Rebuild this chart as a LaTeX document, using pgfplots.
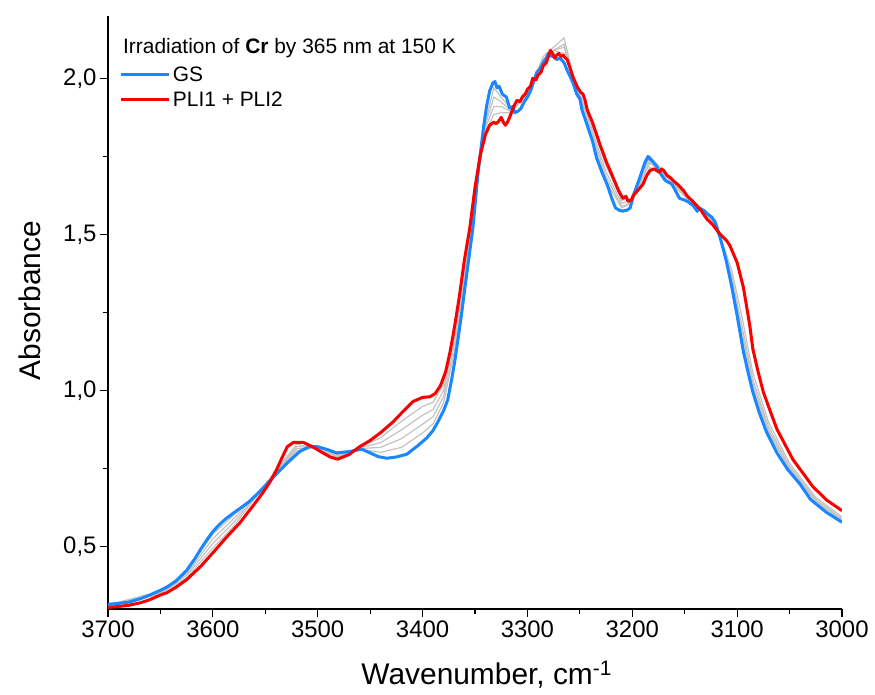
\documentclass[border=0pt]{standalone}
\usepackage{fontspec}
\setmainfont{Liberation Sans}
\usepackage{pgfplots}
\pgfplotsset{compat=1.18}
\definecolor{gsblue}{RGB}{25,135,255}
\definecolor{plired}{RGB}{250,0,0}
\definecolor{lgray}{RGB}{195,195,195}
\begin{document}
\begin{tikzpicture}
\useasboundingbox (-108bp,-86bp) rectangle (767bp,609bp);
\begin{axis}[
  scale only axis,
  width=734bp, height=593bp,
  x dir=reverse,
  xmin=3000, xmax=3700,
  ymin=0.3, ymax=2.2,
  axis x line*=bottom, axis y line*=left,
  axis line style={-, line width=1.4bp},
  tick align=outside,
  major tick length=8bp, minor tick length=5bp,
  every tick/.style={black, line width=1.2bp},
  xtick={3000,3100,...,3700},
  ytick={0.5,1.0,1.5,2.0},
  minor x tick num=1, minor y tick num=1,
  /pgf/number format/assume math mode=true,
  xticklabel style={/pgf/number format/1000 sep={}, font=\fontsize{24}{28}\selectfont},
  yticklabel style={/pgf/number format/.cd, use comma, fixed, fixed zerofill, precision=1, /tikz/.cd, font=\fontsize{24}{28}\selectfont},
  xlabel={Wavenumber, cm\textsuperscript{-1}},
  ylabel={Absorbance},
  xlabel style={font=\fontsize{30}{34}\selectfont, at={(axis description cs:0.516,-0.11)}, anchor=center},
  ylabel style={font=\fontsize{30}{34}\selectfont, at={(axis description cs:-0.106,0.52)}, anchor=center},
  legend cell align=left,
  legend style={draw=none, fill=none, at={(axis description cs:0.016,0.918)}, anchor=north west,
    font=\fontsize{21}{25}\selectfont, row sep=5bp, inner sep=0pt},
  legend image code/.code={\draw[#1] (0bp,0bp) -- (48bp,0bp);},
]
% intermediate spectra (gray)
\addplot[lgray, line width=1.2bp, forget plot] coordinates {
(3700,0.313)(3650,0.357)(3625,0.420)(3600,0.540)(3580,0.601)(3560,0.663)(3540,0.737)(3520,0.807)(3500,0.818)(3480,0.796)(3460,0.812)(3440,0.802)(3420,0.818)(3400,0.864)(3390,0.893)(3380,0.96)(3370,1.12)(3360,1.34)(3350,1.61)(3340,1.86)(3332,1.97)(3325,1.94)(3315,1.90)(3300,1.945)(3285,2.06)(3275,2.09)(3265,2.10)(3255,1.98)(3240,1.83)(3225,1.67)(3210,1.585)(3200,1.60)(3190,1.70)(3183,1.75)(3175,1.72)(3160,1.655)(3140,1.59)(3125,1.555)(3115,1.477)(3105,1.342)(3095,1.16)(3085,1.009)(3070,0.865)(3050,0.746)(3025,0.644)(3000,0.582)};
\addplot[lgray, line width=1.2bp, forget plot] coordinates {
(3700,0.311)(3650,0.354)(3625,0.413)(3600,0.525)(3580,0.59)(3560,0.66)(3540,0.739)(3520,0.814)(3500,0.816)(3480,0.792)(3460,0.814)(3440,0.818)(3420,0.846)(3400,0.892)(3390,0.916)(3380,0.98)(3370,1.14)(3360,1.36)(3350,1.62)(3340,1.85)(3332,1.94)(3325,1.925)(3315,1.895)(3300,1.95)(3285,2.07)(3275,2.10)(3265,2.13)(3255,1.99)(3240,1.845)(3225,1.685)(3210,1.59)(3200,1.605)(3190,1.69)(3183,1.74)(3175,1.71)(3160,1.66)(3140,1.595)(3125,1.55)(3115,1.479)(3105,1.354)(3095,1.18)(3085,1.023)(3070,0.874)(3050,0.752)(3025,0.648)(3000,0.585)};
\addplot[lgray, line width=1.2bp, forget plot] coordinates {
(3700,0.309)(3650,0.351)(3625,0.407)(3600,0.51)(3580,0.578)(3560,0.658)(3540,0.741)(3520,0.821)(3500,0.814)(3480,0.788)(3460,0.816)(3440,0.833)(3420,0.874)(3400,0.921)(3390,0.939)(3380,1.0)(3370,1.16)(3360,1.38)(3350,1.63)(3340,1.84)(3332,1.91)(3325,1.91)(3315,1.892)(3300,1.955)(3285,2.06)(3275,2.09)(3265,2.11)(3255,1.985)(3240,1.856)(3225,1.70)(3210,1.60)(3200,1.61)(3190,1.68)(3183,1.73)(3175,1.705)(3160,1.662)(3140,1.596)(3125,1.545)(3115,1.481)(3105,1.366)(3095,1.20)(3085,1.036)(3070,0.884)(3050,0.758)(3025,0.652)(3000,0.589)};
\addplot[lgray, line width=1.2bp, forget plot] coordinates {
(3700,0.307)(3650,0.348)(3625,0.40)(3600,0.495)(3580,0.566)(3560,0.655)(3540,0.743)(3520,0.828)(3500,0.812)(3480,0.784)(3460,0.818)(3440,0.849)(3420,0.902)(3400,0.949)(3390,0.962)(3380,1.02)(3370,1.18)(3360,1.40)(3350,1.64)(3340,1.83)(3332,1.885)(3325,1.89)(3315,1.89)(3300,1.96)(3285,2.05)(3275,2.09)(3265,2.08)(3255,1.99)(3240,1.87)(3225,1.72)(3210,1.61)(3200,1.615)(3190,1.67)(3183,1.715)(3175,1.70)(3160,1.665)(3140,1.598)(3125,1.54)(3115,1.484)(3105,1.384)(3095,1.23)(3085,1.057)(3070,0.898)(3050,0.767)(3025,0.658)(3000,0.595)};
% GS
\addplot[gsblue, line width=3bp, line join=round] coordinates {
(3700,0.315)(3690,0.318)(3680,0.322)(3669,0.333)(3660,0.345)(3650,0.36)(3644,0.37)(3635,0.39)(3625,0.424)(3617,0.462)(3611,0.495)(3605,0.525)(3600,0.548)(3594,0.57)(3588,0.588)(3581,0.606)(3573,0.625)(3565,0.645)(3555,0.677)(3543,0.72)(3530,0.765)(3517,0.805)(3508,0.82)(3500,0.82)(3490,0.81)(3482,0.80)(3469,0.805)(3458,0.812)(3450,0.80)(3442,0.788)(3434,0.783)(3425,0.787)(3415,0.796)(3405,0.822)(3396,0.848)(3390,0.872)(3385,0.902)(3380,0.935)(3376,0.97)(3372,1.04)(3369,1.10)(3366,1.17)(3363,1.24)(3360,1.32)(3356,1.42)(3352,1.52)(3347,1.70)(3342,1.84)(3339,1.91)(3336,1.96)(3333,1.985)(3331,1.99)(3329,1.97)(3327,1.975)(3324,1.95)(3320,1.94)(3317,1.905)(3314,1.91)(3312,1.89)(3309,1.895)(3306,1.905)(3303,1.925)(3300,1.94)(3297,1.96)(3295,1.98)(3291,2.02)(3288,2.03)(3285,2.05)(3282,2.065)(3280,2.08)(3277,2.07)(3275,2.075)(3272,2.06)(3269,2.066)(3265,2.05)(3262,2.025)(3257,1.99)(3253,1.95)(3250,1.935)(3248,1.90)(3243,1.85)(3238,1.80)(3234,1.745)(3229,1.70)(3224,1.66)(3220,1.62)(3216,1.585)(3212,1.577)(3209,1.575)(3205,1.578)(3202,1.585)(3199,1.625)(3193,1.68)(3188,1.73)(3185,1.75)(3181,1.735)(3177,1.72)(3174,1.70)(3172,1.69)(3169,1.675)(3167,1.67)(3164,1.665)(3162,1.66)(3158,1.635)(3155,1.616)(3150,1.61)(3147,1.605)(3145,1.60)(3142,1.593)(3138,1.574)(3136,1.585)(3131,1.575)(3128,1.565)(3124,1.555)(3121,1.54)(3119,1.52)(3116,1.487)(3113,1.45)(3110,1.41)(3105,1.33)(3100,1.24)(3094,1.124)(3089,1.05)(3085,0.995)(3079,0.93)(3072,0.867)(3062,0.80)(3052,0.748)(3040,0.70)(3030,0.651)(3015,0.61)(3000,0.578)};
\addlegendentry{GS}
% PLI1 + PLI2
\addplot[plired, line width=3bp, line join=round] coordinates {
(3700,0.305)(3690,0.308)(3680,0.312)(3669,0.32)(3660,0.33)(3650,0.345)(3644,0.352)(3635,0.37)(3625,0.394)(3612,0.435)(3600,0.48)(3587,0.53)(3574,0.577)(3563,0.625)(3552,0.674)(3545,0.71)(3539,0.748)(3534,0.785)(3529,0.82)(3523,0.834)(3514,0.834)(3505,0.82)(3495,0.80)(3488,0.787)(3481,0.78)(3470,0.795)(3460,0.82)(3450,0.84)(3440,0.865)(3428,0.90)(3418,0.935)(3409,0.965)(3400,0.978)(3393,0.98)(3388,0.99)(3383,1.015)(3378,1.06)(3374,1.12)(3371,1.175)(3368,1.235)(3365,1.30)(3360,1.42)(3355,1.52)(3350,1.65)(3345,1.754)(3340,1.82)(3336,1.85)(3332,1.86)(3330,1.855)(3328,1.86)(3325,1.875)(3323,1.86)(3321,1.85)(3319,1.86)(3317,1.875)(3313,1.91)(3310,1.93)(3307,1.925)(3305,1.94)(3302,1.95)(3300,1.965)(3297,1.975)(3295,2.0)(3292,1.995)(3290,2.01)(3287,2.02)(3285,2.04)(3282,2.05)(3280,2.07)(3278,2.09)(3276,2.08)(3274,2.065)(3272,2.075)(3270,2.08)(3268,2.07)(3266,2.075)(3264,2.066)(3262,2.06)(3260,2.04)(3256,2.0)(3252,1.97)(3249,1.955)(3247,1.95)(3245,1.93)(3243,1.90)(3240,1.875)(3238,1.86)(3234,1.82)(3231,1.79)(3225,1.735)(3218,1.68)(3213,1.64)(3209,1.616)(3206,1.622)(3204,1.606)(3201,1.61)(3199,1.625)(3195,1.64)(3190,1.66)(3186,1.69)(3183,1.705)(3179,1.71)(3176,1.703)(3174,1.70)(3172,1.71)(3170,1.705)(3167,1.69)(3163,1.68)(3160,1.67)(3155,1.655)(3151,1.64)(3148,1.625)(3142,1.605)(3135,1.58)(3129,1.55)(3123,1.53)(3116,1.50)(3110,1.48)(3107,1.465)(3100,1.41)(3094,1.33)(3088,1.21)(3085,1.133)(3080,1.06)(3075,0.995)(3068,0.93)(3062,0.876)(3047,0.78)(3028,0.693)(3015,0.65)(3000,0.615)};
\addlegendentry{PLI1 + PLI2}
\node[anchor=west, font=\fontsize{21}{25}\selectfont, inner sep=0pt] at (axis description cs:0.0204,0.946) {Irradiation of \textbf{Cr} by 365 nm at 150 K};
\end{axis}
\end{tikzpicture}
\end{document}
